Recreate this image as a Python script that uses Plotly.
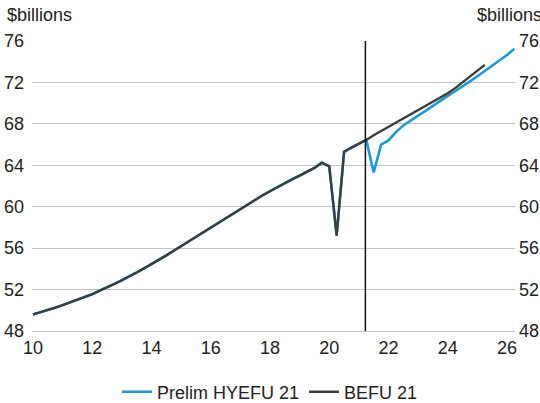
import plotly.graph_objects as go

# Quarterly x positions (year - 2000, fractional quarters)
start_year = 10.0
step = 0.25

history = [49.6, 49.8, 50.0, 50.25, 50.5, 50.75, 51.0, 51.25, 51.55, 51.9,
           52.2, 52.55, 52.9, 53.25, 53.65, 54.05, 54.45, 54.85, 55.3, 55.75,
           56.2, 56.65, 57.1, 57.55, 58.0, 58.45, 58.9, 59.35, 59.8, 60.25,
           60.7, 61.1, 61.5, 61.9, 62.3, 62.65, 63.0, 63.35, 63.75, 64.25,
           63.9, 57.2, 65.3, 65.7, 66.05, 66.45]

hyefu_forecast = [63.3, 66.0, 66.4, 67.2, 67.85, 68.35, 68.8, 69.25, 69.75, 70.2,
                  70.7, 71.15, 71.6, 72.1, 72.6, 73.1, 73.6, 74.1, 74.65, 75.25]

befu_forecast = [66.9, 67.3, 67.7, 68.1, 68.55, 68.95, 69.35, 69.75, 70.15, 70.55,
                 70.95, 71.45, 72.0, 72.55, 73.1, 73.7]

forecast_start = 21.22
x_ticks = [10, 12, 14, 16, 18, 20, 22, 24, 26]
y_ticks = [48, 52, 56, 60, 64, 68, 72, 76]

hyefu = history + hyefu_forecast
befu = history + befu_forecast
x_hyefu = [start_year + step * i for i in range(len(hyefu))]
x_befu = [start_year + step * i for i in range(len(befu))]

BLUE = "#1d9ad6"
DARK = "#3c3c3c"
GRID = "#c4c4c4"
TEXT = "#222222"
FONT = "Liberation Sans, Arial, sans-serif"

fig = go.Figure()
fig.add_trace(go.Scatter(x=x_hyefu, y=hyefu, mode="lines", name="Prelim HYEFU 21",
                         line=dict(color=BLUE, width=2.6)))
fig.add_trace(go.Scatter(x=x_befu, y=befu, mode="lines", name="BEFU 21",
                         line=dict(color=DARK, width=2.4)))
# invisible copy on the right-hand axis so it gets drawn
fig.add_trace(go.Scatter(x=x_befu, y=befu, mode="lines", yaxis="y2", showlegend=False,
                         hoverinfo="skip", line=dict(color="rgba(0,0,0,0)", width=0)))

fig.add_shape(type="line", x0=forecast_start, x1=forecast_start, xref="x",
              y0=0, y1=1, yref="paper", line=dict(color="#111111", width=1.5))

fig.update_layout(
    width=540, height=403,
    margin=dict(l=32, r=25, t=41, b=71.5),
    paper_bgcolor="white", plot_bgcolor="white",
    font=dict(family=FONT, size=18, color=TEXT),
    showlegend=True,
    legend=dict(orientation="h", x=0.5, xanchor="center", xref="container",
                y=0.0273, yanchor="middle", yref="container",
                font=dict(size=18, color=TEXT), traceorder="normal"),
    xaxis=dict(range=[9.966, 26.27], tickvals=x_ticks, ticktext=[str(t) for t in x_ticks],
               showgrid=False, zeroline=False, showline=True, linecolor=GRID, linewidth=1.3,
               ticks="", automargin=False, tickfont=dict(size=18, color=TEXT)),
    yaxis=dict(range=[48, 76], tickvals=y_ticks, showgrid=True, gridcolor=GRID, gridwidth=1.3,
               zeroline=False, showline=False, ticks="", ticklabelstandoff=7, automargin=False,
               tickfont=dict(size=18, color=TEXT)),
    yaxis2=dict(range=[48, 76], tickvals=y_ticks, overlaying="y", side="right",
                showgrid=False, zeroline=False, showline=False, ticks="", ticklabelstandoff=3,
                automargin=False, tickfont=dict(size=18, color=TEXT)),
    annotations=[
        dict(text="$billions", xref="paper", yref="paper", x=-0.056, y=1.0895,
             xanchor="left", yanchor="middle", showarrow=False,
             font=dict(size=18, color=TEXT)),
        dict(text="$billions", xref="paper", yref="paper", x=0.917, y=1.0895,
             xanchor="left", yanchor="middle", showarrow=False,
             font=dict(size=18, color=TEXT)),
    ],
)

fig.write_html("out.html", config={"displayModeBar": False},
               post_script="document.body.style.margin='0';")
